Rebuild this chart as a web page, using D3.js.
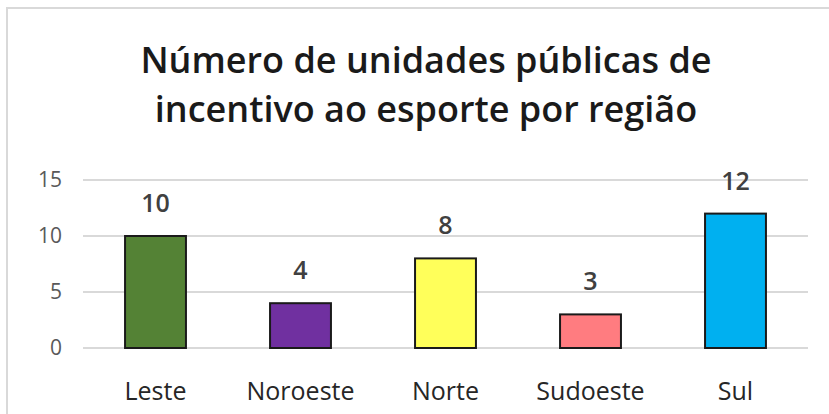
<!DOCTYPE html>
<html>
<head>
<meta charset="utf-8">
<script src="https://cdn.jsdelivr.net/npm/d3@7"></script>
<style>
  body { margin: 0; background: #fff; }
  svg { display: block; }
</style>
</head>
<body>
<svg id="chart" width="829" height="414"></svg>
<script>
// data
const regions = ["Leste", "Noroeste", "Norte", "Sudoeste", "Sul"];
const units = [10, 4, 8, 3, 12];
const barColors = ["#548235", "#7030A0", "#FFFF5A", "#FF7C80", "#00B0F0"];
const yTicks = [0, 5, 10, 15];
const titleLines = ["Número de unidades públicas de", "incentivo ao esporte por região"];

const font = "'Open Sans', 'Noto Sans', sans-serif";
const svg = d3.select("#chart");

// chart frame
svg.append("rect")
  .attr("x", 7).attr("y", 8)
  .attr("width", 840).attr("height", 420)
  .attr("fill", "#fff")
  .attr("stroke", "#d9d9d9")
  .attr("stroke-width", 2);

const x = d3.scaleBand()
  .domain(regions)
  .range([83, 808])
  .paddingInner(0.58)
  .paddingOuter(0.29);

const y = d3.scaleLinear()
  .domain([0, 15])
  .range([348, 180]);

// gridlines
svg.append("g")
  .selectAll("line")
  .data(yTicks)
  .join("line")
  .attr("x1", 83).attr("x2", 808)
  .attr("y1", d => y(d)).attr("y2", d => y(d))
  .attr("stroke", "#d9d9d9")
  .attr("stroke-width", 2);

// y axis labels
const yAxis = svg.append("g")
  .attr("transform", "translate(70,0)")
  .call(d3.axisLeft(y).tickValues(yTicks).tickSize(0).tickPadding(8));
yAxis.select(".domain").remove();
yAxis.selectAll("text")
  .attr("font-family", font)
  .attr("font-size", 21)
  .attr("fill", "#595959");

// bars
svg.append("g")
  .selectAll("rect")
  .data(regions)
  .join("rect")
  .attr("x", d => x(d))
  .attr("y", (d, i) => y(units[i]))
  .attr("width", x.bandwidth())
  .attr("height", (d, i) => y(0) - y(units[i]))
  .attr("fill", (d, i) => barColors[i])
  .attr("stroke", "#1a1a1a")
  .attr("stroke-width", 2);

// value labels
svg.append("g")
  .selectAll("text")
  .data(regions)
  .join("text")
  .attr("x", d => x(d) + x.bandwidth() / 2)
  .attr("y", (d, i) => y(units[i]) - 24)
  .attr("text-anchor", "middle")
  .attr("font-family", font)
  .attr("font-size", 25)
  .attr("font-weight", 600)
  .attr("fill", "#404040")
  .text((d, i) => units[i]);

// category labels
const xAxis = svg.append("g")
  .attr("transform", `translate(0,${y(0)})`)
  .call(d3.axisBottom(x).tickSize(0).tickPadding(34));
xAxis.select(".domain").remove();
xAxis.selectAll("text")
  .attr("font-family", font)
  .attr("font-size", 25)
  .attr("fill", "#262626");

// title
svg.append("g")
  .selectAll("text")
  .data(titleLines)
  .join("text")
  .attr("x", 426)
  .attr("y", (d, i) => 73 + i * 49)
  .attr("text-anchor", "middle")
  .attr("font-family", font)
  .attr("font-size", 36)
  .attr("font-weight", 600)
  .attr("fill", "#1a1a1a")
  .text(d => d);
</script>
</body>
</html>
